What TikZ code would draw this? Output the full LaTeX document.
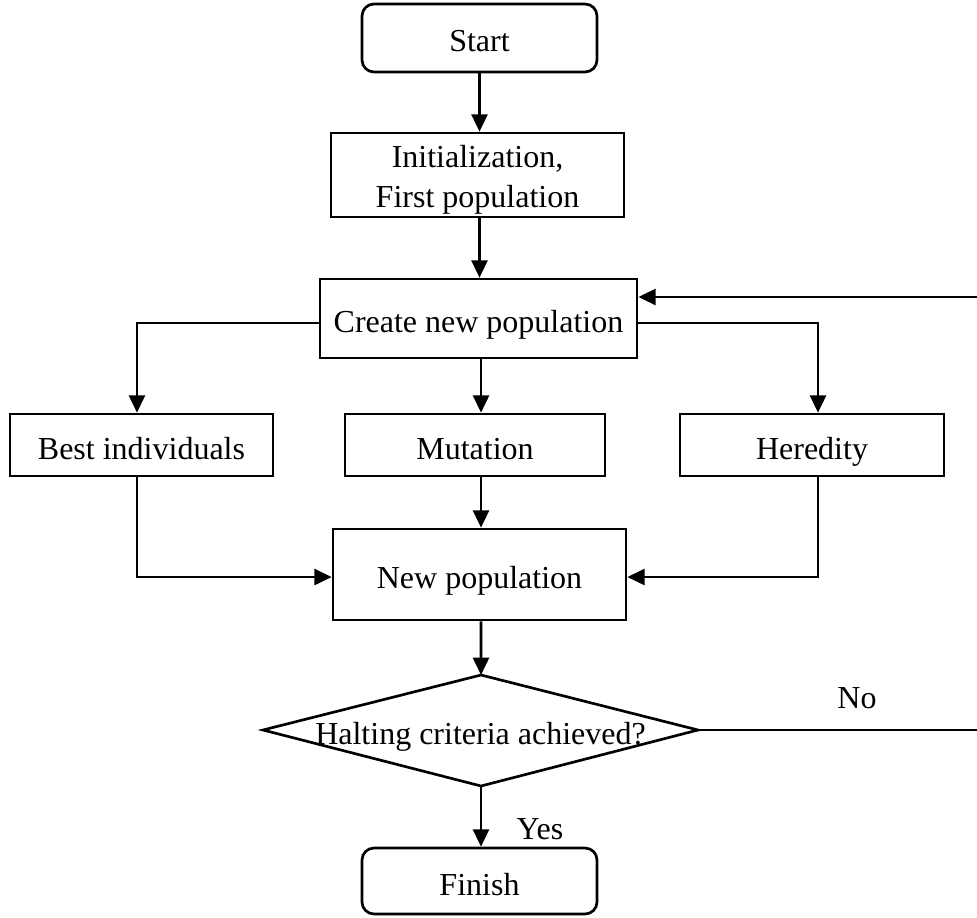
\documentclass[tikz,border=0pt]{standalone}
\usepackage{fontspec}
\setmainfont{Liberation Serif}
\usetikzlibrary{arrows.meta}
\begin{document}
\begin{tikzpicture}[x=0.75pt,y=-0.75pt,
  every node/.style={font=\fontsize{24}{30}\selectfont, inner sep=0pt, align=center},
  oneline/.style={text height=25pt, text depth=4pt},
  box/.style={draw, line width=2pt},
  rbox/.style={box, rounded corners=9pt},
  conn/.style={line width=2pt},
  arr/.style={conn, -{Triangle[length=13pt,width=12pt]}}]
\useasboundingbox (0,0) rectangle (977,917);
\node[rbox, oneline, minimum width=176.25pt, minimum height=51pt] (start) at (479.5,38) {Start};
\node[box, minimum width=219.75pt, minimum height=63pt] (init) at (477.5,175) {\rule{0pt}{24pt}Initialization,\\First population};
\node[box, oneline, minimum width=237.75pt, minimum height=59.25pt] (create) at (478.5,318.5) {Create new population};
\node[box, oneline, minimum width=197.25pt, minimum height=46.5pt] (best) at (141.5,445) {Best individuals};
\node[box, oneline, minimum width=195pt, minimum height=46.5pt] (mut) at (475,445) {Mutation};
\node[box, oneline, minimum width=198pt, minimum height=46.5pt] (her) at (812,445) {Heredity};
\node[box, oneline, minimum width=219.75pt, minimum height=68.25pt] (np) at (479.5,574.5) {New population};
\node[oneline] (halt) at (480.5,730) {Halting criteria achieved?};
\coordinate (dtop) at (481,675);
\coordinate (dbot) at (481,786);
\coordinate (dleft) at (263,730);
\coordinate (dright) at (698,730);
\draw[conn, line join=miter] (dtop) -- (dright) -- (dbot) -- (dleft) -- cycle;
\node[rbox, oneline, minimum width=176.25pt, minimum height=49.5pt] (fin) at (479.5,881) {Finish};
\coordinate (fbin) at (977,297);
\coordinate (fbout) at (977,730);
\node[oneline] (no) at (857,694) {No};
\node[oneline] (yes) at (540,825) {Yes};
% connectors
\draw[arr] (start.south) -- (start.south |- init.north);
\draw[arr] ([xshift=1.5pt]init.south) -- ([xshift=1.5pt]init.south |- create.north);
\draw[arr] (fbin) -- (fbin -| create.east);
\draw[arr] ([yshift=-3.4pt]create.west) -| ([xshift=-3.4pt]best.north);
\draw[arr] ([yshift=-3.4pt]create.east) -| ([xshift=4.5pt]her.north);
\draw[arr] ([xshift=1.9pt]create.south) -- ([xshift=1.9pt]create.south |- mut.north);
\draw[arr] ([xshift=-3.4pt]best.south) |- ([yshift=-1.9pt]np.west);
\draw[arr] ([xshift=4.5pt]her.south) |- ([yshift=-1.9pt]np.east);
\draw[arr] ([xshift=4.5pt]mut.south) -- ([xshift=4.5pt]mut.south |- np.north);
\draw[arr] ([xshift=1.1pt]np.south) -- (dtop);
\draw[conn] (dright) -- (fbout);
\draw[arr] (dbot) -- (dbot |- fin.north);
\end{tikzpicture}
\end{document}
